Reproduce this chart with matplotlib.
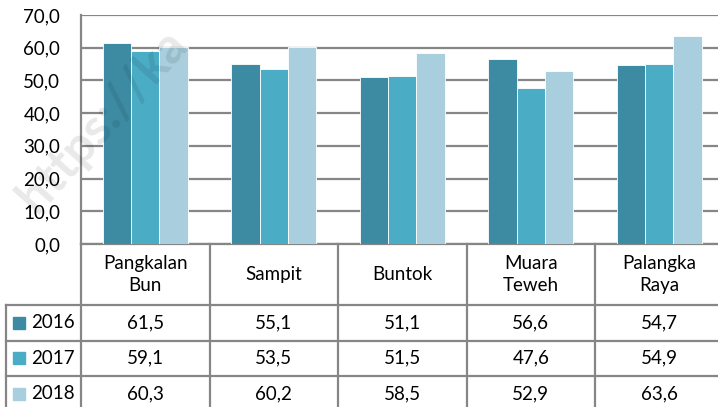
import numpy as np
import matplotlib
matplotlib.use("Agg")
import matplotlib.pyplot as plt
import matplotlib.transforms as mtransforms

# data
kota = ["Pangkalan\nBun", "Sampit", "Buntok", "Muara\nTeweh", "Palangka\nRaya"]
tahun = ["2016", "2017", "2018"]
v2016 = [61.5, 55.1, 51.1, 56.6, 54.7]
v2017 = [59.1, 53.5, 51.5, 47.6, 54.9]
v2018 = [60.3, 60.2, 58.5, 52.9, 63.6]
yticks = [0, 10, 20, 30, 40, 50, 60, 70]

nilai = [v2016, v2017, v2018]
warna = ["#3C8BA3", "#4BACC6", "#A9CEDD"]
abu = "#868686"

plt.rcParams["font.family"] = ["Lato", "DejaVu Sans"]
fs = 13.5

W, H = 718, 407
fig = plt.figure(figsize=(W / 100, H / 100), dpi=100)

# posisi dalam piksel
x0, x1 = 81, 723.5
ytop, ybot = 15, 244
ax = fig.add_axes([x0 / W, (H - ybot) / H, (x1 - x0) / W, (ybot - ytop) / H])

x = np.arange(len(kota))
lebar = 0.22
for i in range(3):
    ax.bar(x + (i - 1) * lebar, nilai[i], lebar, color=warna[i],
           edgecolor="white", linewidth=0.6, zorder=3)

ax.set_xlim(-0.5, len(kota) - 0.5)
ax.set_ylim(0, 70)
ax.set_yticks(yticks)
ax.set_yticklabels(["{:.1f}".format(v).replace(".", ",") for v in yticks], fontsize=fs)
ax.tick_params(axis="y", length=0, pad=15)
ax.set_xticks([])
ax.grid(axis="y", color=abu, linewidth=1.6, zorder=1)
for s in ["top", "right"]:
    ax.spines[s].set_visible(False)
for s in ["left", "bottom"]:
    ax.spines[s].set_color(abu)
    ax.spines[s].set_linewidth(1.6)

# tabel data di bawah sumbu
tr = mtransforms.blended_transform_factory(ax.transData, ax.transAxes)
ph = ybot - ytop


def fy(py):
    return (ybot - py) / ph


def fx(px):
    return -0.5 + (px - x0) / ((x1 - x0) / len(kota))


baris = [244, 305, 340.5, 376, 411.5]
xkiri = fx(6)
kw = dict(color=abu, linewidth=1.6, transform=tr, clip_on=False)
for b in range(len(kota) + 1):
    ax.plot([b - 0.5, b - 0.5], [0, fy(baris[-1])], **kw)
ax.plot([xkiri, xkiri], [fy(baris[1]), fy(baris[-1])], **kw)
for py in baris[1:]:
    ax.plot([xkiri, len(kota) - 0.5], [fy(py), fy(py)], **kw)

yh = fy((baris[0] + baris[1]) / 2)
for j, nama in enumerate(kota):
    ax.text(j, yh, nama, ha="center", va="center", fontsize=fs,
            linespacing=1.4, transform=tr)

for i in range(3):
    yc = fy((baris[i + 1] + baris[i + 2]) / 2)
    ax.plot([fx(19.5)], [yc], marker="s", markersize=8, color=warna[i],
            transform=tr, clip_on=False, linestyle="none")
    ax.text(fx(31), yc, tahun[i], ha="left", va="center", fontsize=fs, transform=tr)
    for j in range(len(kota)):
        ax.text(j, yc, "{:.1f}".format(nilai[i][j]).replace(".", ","),
                ha="center", va="center", fontsize=fs, transform=tr)

# watermark (hanya bagian yang terlihat)
fig.text(26 / W, (H - 205) / H, "https://ka", rotation=48,
         rotation_mode="anchor", ha="left", va="center", fontsize=36,
         fontweight="bold", color="black", alpha=0.09, zorder=10)

fig.savefig("out.png", dpi=100)
